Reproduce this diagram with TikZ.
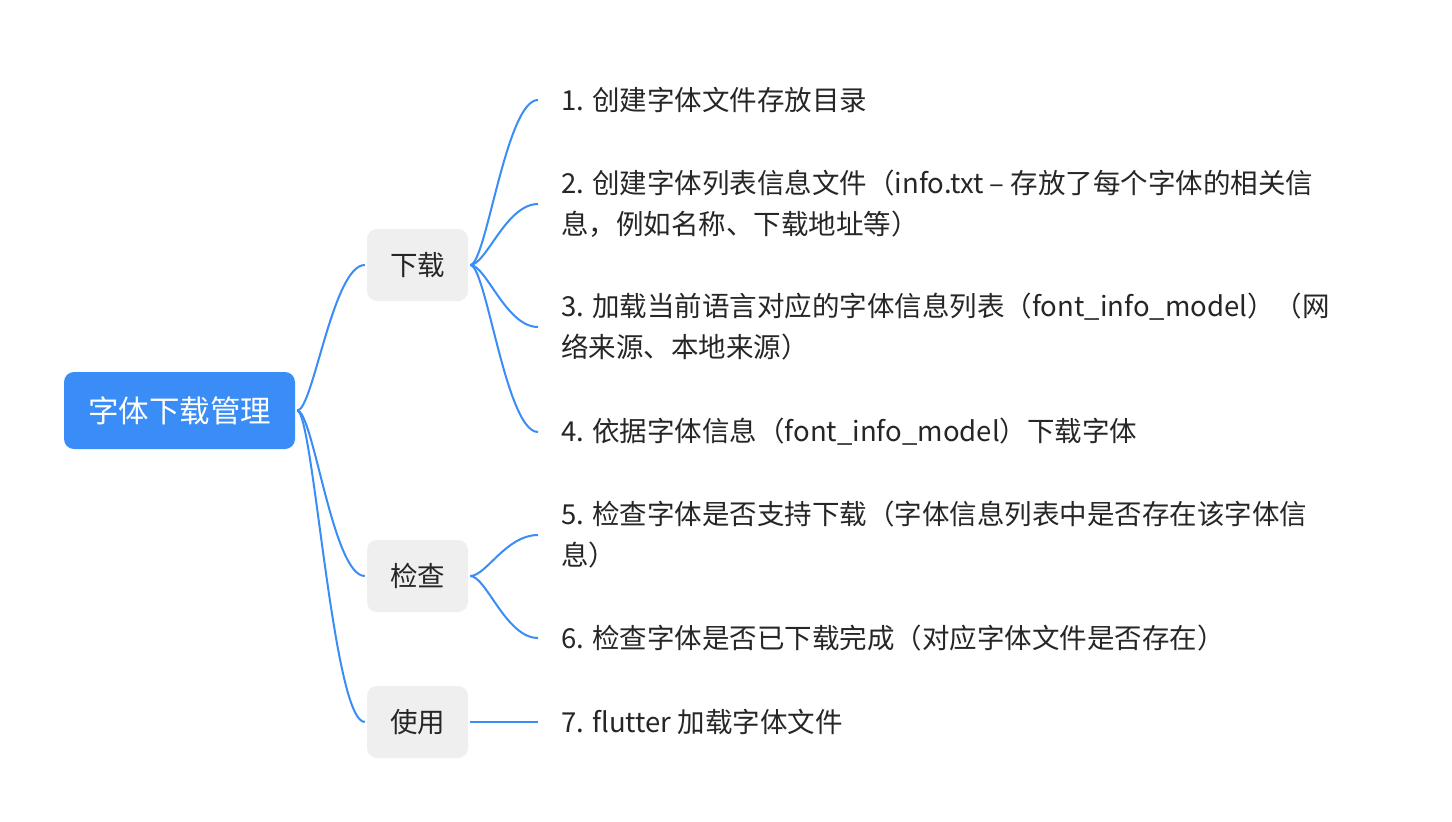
\documentclass[tikz,border=0pt]{standalone}
\usepackage{fontspec}
\setmainfont{Noto Sans CJK SC}
\definecolor{mblue}{HTML}{3A8DF6}
\definecolor{mgray}{HTML}{EFEFEF}
\definecolor{mtext}{HTML}{262626}
\tikzset{
  rootbox/.style={fill=mblue, text=white, rounded corners=10pt, minimum width=231pt, minimum height=77pt, inner sep=0pt, font=\fontsize{30.5}{36}\selectfont},
  branchbox/.style={fill=mgray, text=mtext, rounded corners=10pt, minimum width=101pt, minimum height=72pt, inner sep=0pt, font=\fontsize{27.5}{32}\selectfont},
  itemtext/.style={anchor=west, inner sep=0pt, text=mtext, align=left, font=\fontsize{27.5}{41}\selectfont},
  conn/.style={draw=mblue, line width=2pt},
  curve/.style={to path={.. controls +(16,0) and +(-32,0) .. (\tikztotarget)}},
}
\begin{document}
\begin{tikzpicture}[x=1pt,y=-1pt]
\useasboundingbox (0,0) rectangle (1452,822);
\fill[white] (0,0) rectangle (1452,822);

\node[rootbox] (r) at (179.5,410.5) {字体下载管理};
\node[branchbox] (dl) at (417.5,265) {下载};
\node[branchbox] (jc) at (417.5,576) {检查};
\node[branchbox] (sy) at (417.5,722) {使用};

\node[itemtext] (t1) at (561,100) {1. 创建字体文件存放目录};
\node[itemtext] (t2) at (561,204) {2. 创建字体列表信息文件（info.txt – 存放了每个字体的相关信\\息，例如名称、下载地址等）};
\node[itemtext] (t3) at (561,327) {3. 加载当前语言对应的字体信息列表（font\_info\_model）（网\\络来源、本地来源）};
\node[itemtext] (t4) at (561,432) {4. 依据字体信息（font\_info\_model）下载字体};
\node[itemtext] (t5) at (561,535) {5. 检查字体是否支持下载（字体信息列表中是否存在该字体信\\息）};
\node[itemtext] (t6) at (561,638) {6. 检查字体是否已下载完成（对应字体文件是否存在）};
\node[itemtext] (t7) at (561,722) {7. flutter 加载字体文件};

\draw[conn] ([xshift=2pt]r.east) to[curve] ([xshift=-2pt]dl.west);
\draw[conn] ([xshift=2pt]r.east) to[curve] ([xshift=-2pt]jc.west);
\draw[conn] ([xshift=2pt]r.east) to[curve] ([xshift=-2pt]sy.west);

\draw[conn] ([xshift=2pt]dl.east) to[curve] ([xshift=-23pt]t1.west);
\draw[conn] ([xshift=2pt]dl.east) to[curve] ([xshift=-23pt]t2.west);
\draw[conn] ([xshift=2pt]dl.east) to[curve] ([xshift=-23pt]t3.west);
\draw[conn] ([xshift=2pt]dl.east) to[curve] ([xshift=-23pt]t4.west);

\draw[conn] ([xshift=2pt]jc.east) to[curve] ([xshift=-23pt]t5.west);
\draw[conn] ([xshift=2pt]jc.east) to[curve] ([xshift=-23pt]t6.west);

\draw[conn] ([xshift=2pt]sy.east) -- ([xshift=-23pt]t7.west);
\end{tikzpicture}
\end{document}
